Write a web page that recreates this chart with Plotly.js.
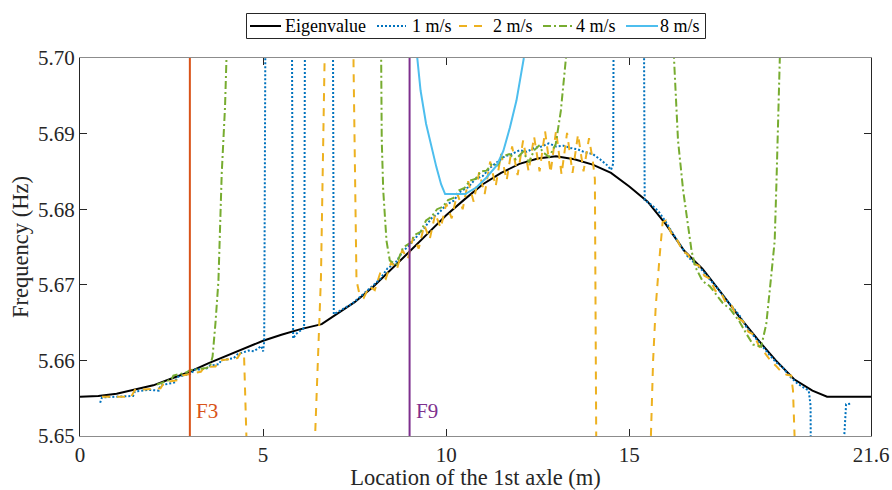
<!DOCTYPE html>
<html>
<head>
<meta charset="utf-8">
<script src="https://cdn.plot.ly/plotly-3.0.1.min.js"></script>
<style>html,body{margin:0;padding:0;background:#fff;}#chart{width:892px;height:490px;}</style>
</head>
<body>
<div id="chart"></div>
<script>
// ---------- data ----------
const eigX = [0,0.5,1,1.5,2,2.5,3,3.5,4,4.5,5,5.5,6,6.6,7,7.5,8,8.5,9,9.5,10,10.5,11,11.5,12,12.5,13,13.5,14,14.5,15,15.5,16,16.5,17,17.5,18,18.5,19,19.5,20,20.4,21,21.6];
const eigY = [5.6552,5.6553,5.6556,5.6561,5.6567,5.6576,5.6585,5.6596,5.6606,5.6615,5.6626,5.6634,5.6641,5.6648,5.6661,5.6677,5.6697,5.6720,5.6744,5.6768,5.6792,5.6813,5.6833,5.6848,5.6860,5.6867,5.6870,5.6866,5.6859,5.6848,5.6830,5.6810,5.6780,5.6745,5.6721,5.6690,5.6658,5.6628,5.6600,5.6575,5.6560,5.6552,5.6552,5.6552];

const v1X = [0.55,0.6,1.0,1.45,1.5,1.9,2.15,2.2,2.6,2.65,2.9,3.05,3.1,3.3,3.5,3.55,3.8,3.85,4.2,4.3,4.6,4.75,4.95,5.0,5.03,5.1,
             5.75,5.82,5.9,6.05,6.12,6.17,
             6.88,6.93,7.0,7.2,7.4,7.6,7.8,8.0,8.2,8.4,8.6,8.8,9.0,9.2,9.4,9.6,9.8,10.0,10.2,10.4,10.6,10.8,11.0,11.2,11.4,11.6,11.8,12.0,12.2,12.4,12.6,12.8,13.0,13.2,13.4,13.6,13.8,14.0,14.2,14.4,14.5,14.56,14.6,
             15.36,15.42,15.6,15.8,16.0,16.2,16.4,16.6,16.8,17.0,17.2,17.4,17.6,17.8,18.0,18.2,18.4,18.6,18.8,19.0,19.2,19.4,19.6,19.8,19.9,19.95,20.0,
             20.8,20.87,20.92,21.07];
const v1Y = [5.6544,5.6551,5.6552,5.6553,5.6559,5.6561,5.6560,5.6567,5.6571,5.6578,5.6581,5.6582,5.6588,5.6588,5.6590,5.6593,5.6595,5.6600,5.6603,5.6608,5.6613,5.6612,5.6619,5.6612,5.6625,5.75,
             5.75,5.6629,5.6635,5.6640,5.6643,5.75,
             5.75,5.6661,5.6663,5.6668,5.6674,5.6682,5.6690,5.6699,5.6708,5.6722,5.6728,5.6743,5.6753,5.6764,5.6775,5.6788,5.6795,5.6806,5.6811,5.6824,5.6829,5.6840,5.6844,5.6855,5.6862,5.6870,5.6873,5.6878,5.6876,5.6881,5.6883,5.6887,5.6883,5.6884,5.6881,5.6879,5.6875,5.6873,5.6866,5.6858,5.6852,5.6860,5.75,
             5.75,5.6812,5.6806,5.6797,5.6783,5.6767,5.6752,5.6737,5.6728,5.6719,5.6707,5.6696,5.6683,5.6672,5.6660,5.6644,5.6632,5.6621,5.6609,5.6598,5.6590,5.6578,5.6569,5.6563,5.6560,5.6540,5.60,
             5.60,5.6500,5.6542,5.6543];

const v2X = [0.6,1.4,1.5,2.2,2.3,2.7,2.8,3.3,3.4,3.7,3.8,4.3,4.4,4.48,4.55,4.65,
             6.3,6.42,6.58,6.68,6.75,
             7.42,7.47,7.55,7.62,7.75,7.9,8.05,8.2,8.35,8.5,8.65,8.8,8.95,9.1,9.25,9.4,9.55,9.7,9.85,10.0,10.15,10.3,10.45,10.6,10.75,10.9,11.05,11.2,11.35,11.5,11.65,11.8,11.95,12.1,12.25,12.4,12.55,12.7,12.85,13.0,13.15,13.3,13.45,13.6,13.75,13.9,14.0,14.06,14.1,14.15,
             15.5,15.59,15.65,15.72,15.82,15.91,16.0,16.15,16.3,16.45,16.6,16.75,16.9,17.05,17.2,17.35,17.5,17.65,17.8,17.95,18.1,18.25,18.4,18.55,18.7,18.85,19.0,19.15,19.3,19.42,19.47,19.52,19.6];
const v2Y = [5.6552,5.6552,5.6561,5.6563,5.6571,5.6574,5.6580,5.6585,5.6591,5.6592,5.6600,5.6603,5.6611,5.6606,5.6490,5.60,
             5.60,5.6500,5.6710,5.7000,5.75,
             5.75,5.6990,5.6706,5.6690,5.6683,5.6698,5.6693,5.6716,5.6708,5.6730,5.6720,5.6746,5.6734,5.6763,5.6748,5.6779,5.6760,5.6794,5.6775,5.6807,5.6788,5.6821,5.6800,5.6837,5.6810,5.6849,5.6820,5.6863,5.6830,5.6873,5.6838,5.6883,5.6845,5.6891,5.6850,5.6896,5.6850,5.6903,5.6848,5.6904,5.6846,5.6901,5.6848,5.6899,5.6850,5.6894,5.6865,5.6840,5.6490,5.60,
             5.60,5.6500,5.6600,5.6670,5.6733,5.6783,5.6785,5.6768,5.6760,5.6745,5.6740,5.6728,5.6725,5.6712,5.6708,5.6692,5.6690,5.6675,5.6672,5.6656,5.6652,5.6638,5.6634,5.6618,5.6610,5.6600,5.6593,5.6585,5.6581,5.6580,5.6560,5.6490,5.60];

const v4X = [2.1,2.5,2.55,2.9,3.0,3.45,3.55,3.62,3.7,3.78,3.87,3.96,4.0,4.05,
             8.15,8.24,8.28,8.37,8.46,8.64,8.82,9.0,9.15,9.3,9.45,9.6,9.75,9.9,10.05,10.2,10.35,10.5,10.65,10.8,10.95,11.1,11.25,11.4,11.55,11.72,11.9,12.1,12.26,12.4,12.53,12.65,12.81,12.99,13.13,13.27,13.32,
             16.15,16.22,16.33,16.47,16.6,16.7,16.8,17.0,17.2,17.35,17.55,17.75,18.0,18.2,18.38,18.6,18.74,18.88,18.97,19.02,19.11,19.15];
const v4Y = [5.6568,5.6575,5.6580,5.6584,5.6587,5.6590,5.6592,5.6605,5.6650,5.6705,5.6847,5.6935,5.7000,5.75,
             5.75,5.6891,5.6825,5.6758,5.6732,5.6727,5.6749,5.6755,5.6766,5.6770,5.6785,5.6790,5.6800,5.6803,5.6812,5.6815,5.6825,5.6828,5.6838,5.6840,5.6850,5.6851,5.6860,5.6858,5.6870,5.6873,5.6866,5.6876,5.6862,5.6878,5.6884,5.6875,5.6869,5.6886,5.6930,5.7000,5.75,
             5.75,5.7000,5.6891,5.6825,5.6776,5.6745,5.6724,5.6705,5.6698,5.6688,5.6676,5.6668,5.6652,5.6635,5.6621,5.6618,5.6648,5.6714,5.6758,5.6838,5.7000,5.75];

const v8X = [9.21,9.3,9.45,9.6,9.73,9.86,9.97,10.52,10.83,11.1,11.38,11.56,11.74,11.92,12.12];
const v8Y = [5.7000,5.6957,5.6913,5.6882,5.6856,5.6833,5.6820,5.6820,5.6829,5.6842,5.6858,5.6877,5.6908,5.6944,5.7000];

const markX = [3, 9];
const markLabels = ['F3', 'F9'];
const yRange = [5.65, 5.70];
const xTickVals = [0, 5, 10, 15, 21.6];
const xTickText = ['0', '5', '10', '15', '21.6'];
const yTickVals = [5.65, 5.66, 5.67, 5.68, 5.69, 5.70];
const seriesNames = ['Eigenvalue', '1 m/s', '2 m/s', '4 m/s', '8 m/s'];

// ---------- styles ----------
const FONT = 'Liberation Serif';
const seriesColors = ['#000000', '#0072BD', '#EDB120', '#77AC30', '#4DBEEE'];
const seriesDash = ['solid', '2px,2px', '8px,7px', '8px,3px,2px,3px', 'solid'];
const markColors = ['#D95319', '#7E2F8E'];
const seriesX = [eigX, v1X, v2X, v4X, v8X];
const seriesY = [eigY, v1Y, v2Y, v4Y, v8Y];

const traces = seriesNames.map((n, i) => ({
  x: seriesX[i], y: seriesY[i], name: n, mode: 'lines', showlegend: false,
  line: {color: seriesColors[i], width: 2, dash: seriesDash[i]}
}));
markX.forEach((mx, i) => {
  traces.push({x: [mx, mx], y: yRange, mode: 'lines', showlegend: false, hoverinfo: 'skip',
               line: {color: markColors[i], width: 2}});
});

// plot-area geometry in pixels (for the hand-built legend box above the axes)
const W = 892, H = 490, ML = 80, MR = 21, MT = 58, MB = 54;
const PW = W - ML - MR, PH = H - MT - MB;
const px2x = p => (p - ML) / PW;
const py2y = p => (H - MB - p) / PH;

// legend layout (pixel positions)
const legSample = [[250, 281], [377, 406], [459, 488], [543, 574], [626, 658]];
const legText = [284, 411, 492, 575, 659];
const legY = 26;

const shapes = [{
  type: 'rect', xref: 'paper', yref: 'paper',
  x0: px2x(246.5), x1: px2x(705.5), y0: py2y(38.5), y1: py2y(13.5),
  line: {color: '#262626', width: 1}, fillcolor: '#ffffff', layer: 'above'
}];
const annotations = [];
seriesNames.forEach((n, i) => {
  shapes.push({type: 'line', xref: 'paper', yref: 'paper',
    x0: px2x(legSample[i][0]), x1: px2x(legSample[i][1]), y0: py2y(legY), y1: py2y(legY),
    line: {color: seriesColors[i], width: 2, dash: seriesDash[i]}, layer: 'above'});
  annotations.push({xref: 'paper', yref: 'paper', x: px2x(legText[i]), y: py2y(legY),
    text: n, showarrow: false, xanchor: 'left', yanchor: 'middle', borderpad: 0,
    font: {family: FONT, size: 18, color: '#000000'}});
});
markX.forEach((mx, i) => {
  annotations.push({x: mx, y: 5.6533, xref: 'x', yref: 'y', text: markLabels[i], showarrow: false,
    xanchor: 'left', xshift: 4, font: {family: FONT, size: 21, color: markColors[i]}});
});

const layout = {
  width: W, height: H,
  margin: {l: ML, r: MR, t: MT, b: MB},
  paper_bgcolor: '#ffffff', plot_bgcolor: '#ffffff',
  font: {family: FONT, size: 20, color: '#262626'},
  showlegend: false,
  xaxis: {range: [0, 21.6], tickvals: xTickVals, ticktext: xTickText,
          ticks: 'inside', ticklen: 7, tickcolor: '#262626', tickwidth: 1,
          showline: true, linecolor: '#8c8c8c', linewidth: 1, mirror: 'ticks',
          showgrid: false, zeroline: false,
          tickfont: {family: FONT, size: 21, color: '#262626'},
          title: {text: 'Location of the 1st axle (m)', font: {family: FONT, size: 22.5, color: '#262626'}, standoff: 4}},
  yaxis: {range: yRange, tickvals: yTickVals, tickformat: '.2f',
          ticks: 'inside', ticklen: 7, tickcolor: '#262626', tickwidth: 1,
          showline: true, linecolor: '#262626', linewidth: 1, mirror: 'ticks',
          showgrid: false, zeroline: false,
          tickfont: {family: FONT, size: 21, color: '#262626'},
          title: {text: 'Frequency (Hz)', font: {family: FONT, size: 22.5, color: '#262626'}, standoff: 3}},
  shapes: shapes,
  annotations: annotations
};

Plotly.newPlot('chart', traces, layout, {displayModeBar: false, staticPlot: true});
</script>
</body>
</html>
